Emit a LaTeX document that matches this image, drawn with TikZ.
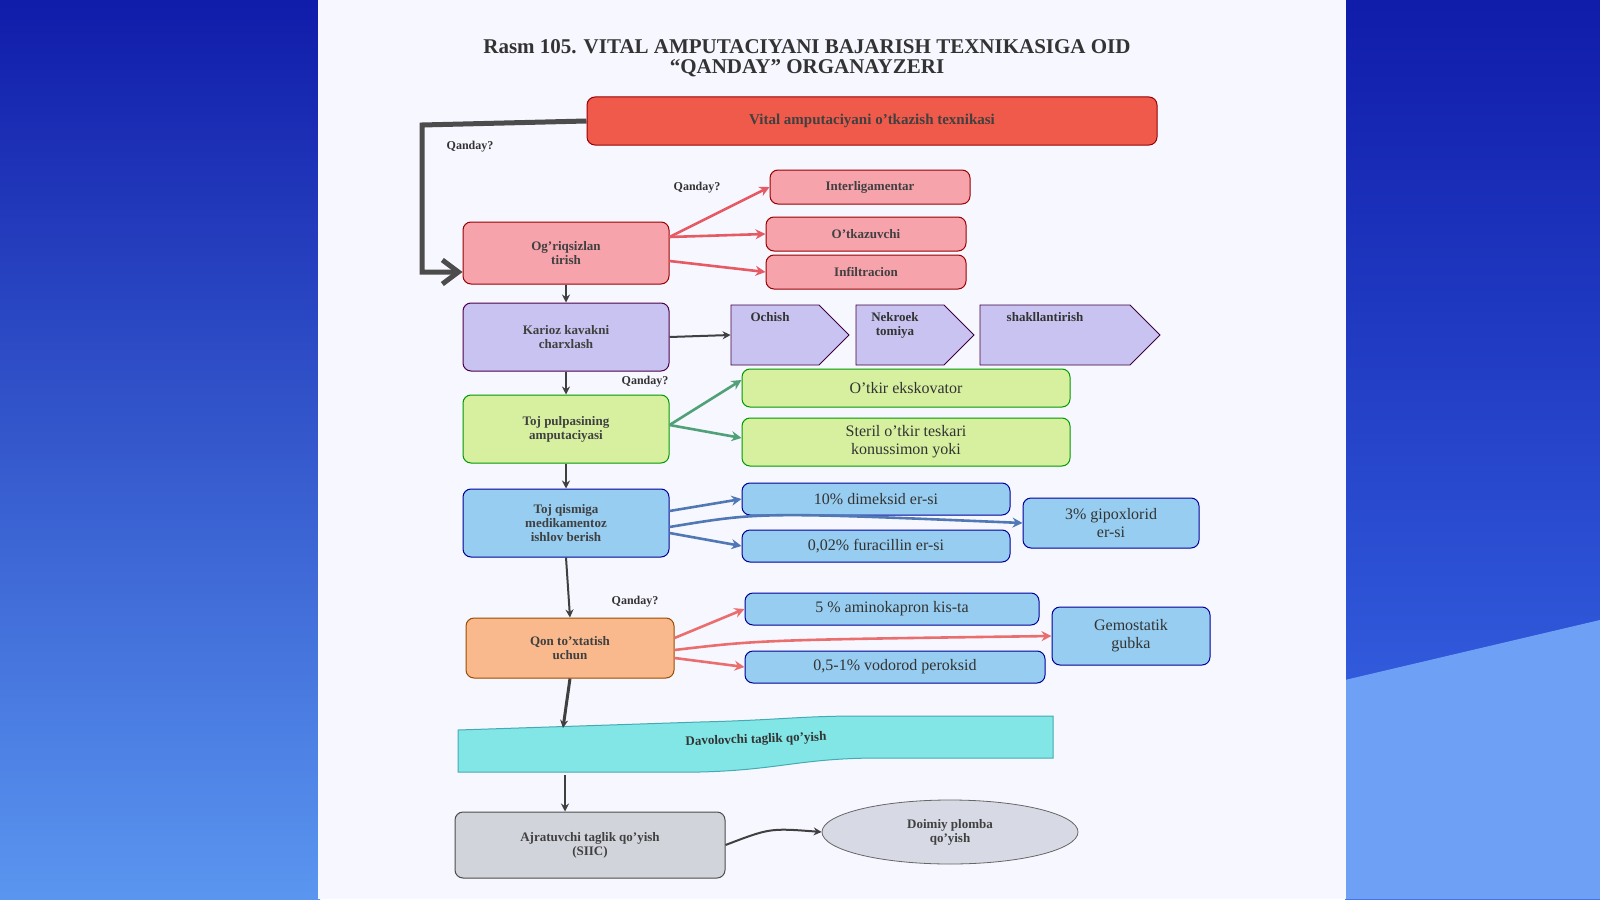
\documentclass[tikz,border=0pt]{standalone}
\usepackage{fontspec}
\setmainfont{Liberation Serif}
\usetikzlibrary{shapes.geometric,shapes.symbols,arrows.meta}
\definecolor{bgdark}{RGB}{16,28,170}
\definecolor{bglight}{RGB}{90,150,240}
\definecolor{bgmid}{RGB}{60,110,235}
\definecolor{bgtri}{RGB}{110,160,245}
\definecolor{topred}{RGB}{240,90,75}
\definecolor{pinkf}{RGB}{246,163,172}
\definecolor{pinka}{RGB}{230,90,100}
\definecolor{lavf}{RGB}{200,195,240}
\definecolor{greenf}{RGB}{215,240,160}
\definecolor{greena}{RGB}{80,160,120}
\definecolor{bluef}{RGB}{150,205,240}
\definecolor{bluea}{RGB}{80,120,180}
\definecolor{orangef}{RGB}{250,185,140}
\definecolor{reda}{RGB}{235,110,110}
\definecolor{cyand}{RGB}{70,170,180}
\definecolor{cyanf}{RGB}{130,230,230}
\definecolor{grayf}{RGB}{210,212,220}
\definecolor{ellf}{RGB}{215,218,228}
\begin{document}
\begin{tikzpicture}[x=0.5pt,y=-0.5pt,
  bx/.style={draw=#1!60!black,rounded corners=4pt,line width=0.5pt,inner sep=0pt,align=center,font=\fontsize{6.5}{7}\selectfont\bfseries,text=black!75},
  lb/.style={font=\fontsize{6}{7}\selectfont\bfseries,text=black!80},
  ar/.style={-{Stealth[length=4pt,width=4pt]},line width=1pt,draw=black!75},
  ca/.style={-{Stealth[length=5pt,width=5pt]},line width=1.3pt,draw=#1},
  pent/.style={draw=violet!50!black,line width=0.4pt,fill=lavf}]
\useasboundingbox (0,0) rectangle (1600,899);
% background
\shade[top color=bgdark,bottom color=bglight] (0,0) rectangle (320,899);
\shade[top color=bgdark,bottom color=bgmid] (1345,0) rectangle (1600,899);
\fill[bgtri] (1345,680) -- (1600,620) -- (1600,899) -- (1345,899) -- cycle;
\fill[white!97!blue] (318,0) rectangle (1346,899);
% title
\node[font=\fontsize{10.5}{10}\selectfont\bfseries,text=black!80,align=center] (title) at (807,58) {Rasm 105. VITAL AMPUTACIYANI BAJARISH TEXNIKASIGA OID\\ “QANDAY” ORGANAYZERI};
% top
\node[bx=red,fill=topred,minimum width=285pt,minimum height=24pt,font=\fontsize{7.5}{8}\selectfont\bfseries] (top) at (872,121) {Vital amputaciyani o’tkazish texnikasi};
\node[lb] (q1) at (470,147) {Qanday?};
% pink
\node[bx=red,fill=pinkf,minimum width=103pt,minimum height=31pt] (og) at (566,253) {Og’riqsizlan\\tirish};
\coordinate (c1) at (422,125); \coordinate (c2) at (422,272);
\draw[line width=2.5pt,draw=black!70,-{Straight Barb[length=8pt,width=12pt]}] (top.west) -- (c1) -- (c2) -- (og.west|-c2);
\node[bx=red,fill=pinkf,minimum width=100pt,minimum height=17pt] (il) at (870,187) {Interligamentar};
\node[bx=red,fill=pinkf,minimum width=100pt,minimum height=17pt] (ot) at (866,234) {O’tkazuvchi};
\node[bx=red,fill=pinkf,minimum width=100pt,minimum height=17pt] (inf) at (866,272) {Infiltracion};
\node[lb] (q2) at (697,188) {Qanday?};
\draw[ca=pinka] ([yshift=8pt]og.east) -- (il.west);
\draw[ca=pinka] ([yshift=8pt]og.east) -- (ot.west);
\draw[ca=pinka] ([yshift=-4pt]og.east) -- (inf.west);
% lavender
\node[bx=violet,fill=lavf,minimum width=103pt,minimum height=34pt] (kar) at (566,337) {Karioz kavakni\\charxlash};
\draw[ar] (og.south) -- (kar.north);
\node[pent,signal,signal to=east,signal pointer angle=90,minimum width=59pt,minimum height=30pt,inner sep=0pt] (och) at (775,335) {};
\node[lb,font=\fontsize{6.5}{7}\selectfont\bfseries] at (770,317) {Ochish};
\node[pent,signal,signal to=east,signal pointer angle=90,minimum width=59pt,minimum height=30pt,inner sep=0pt] (nek) at (900,335) {};
\node[lb,align=center,font=\fontsize{6.5}{7}\selectfont\bfseries] at (895,325) {Nekroek\\tomiya};
\node[pent,signal,signal to=east,signal pointer angle=90,minimum width=90pt,minimum height=30pt,inner sep=0pt] (sha) at (1055,335) {};
\node[lb,font=\fontsize{6.5}{7}\selectfont\bfseries] at (1045,317) {shakllantirish};
\draw[ar] (kar.east) -- (och.west);
% green
\node[bx=green,fill=greenf,minimum width=103pt,minimum height=34pt] (toj) at (566,429) {Toj pulpasining\\amputaciyasi};
\draw[ar] (kar.south) -- (toj.north);
\node[lb] (q3) at (645,382) {Qanday?};
\node[bx=green,fill=greenf,minimum width=164pt,minimum height=19pt,font=\fontsize{8}{9}\selectfont,text=black!80] (ek) at (906,388) {O’tkir ekskovator};
\node[bx=green,fill=greenf,minimum width=164pt,minimum height=24pt,font=\fontsize{8}{9}\selectfont,text=black!80] (st) at (906,442) {Steril o’tkir teskari\\konussimon yoki};
\draw[ca=greena] ([yshift=2pt]toj.east) -- ([yshift=4pt]ek.west);
\draw[ca=greena] ([yshift=2pt]toj.east) -- ([yshift=2pt]st.west);
% blue
\node[bx=blue,fill=bluef,minimum width=103pt,minimum height=34pt] (med) at (566,523) {Toj qismiga\\medikamentoz\\ishlov berish};
\draw[ar] (toj.south) -- (med.north);
\node[bx=blue,fill=bluef,minimum width=134pt,minimum height=16pt,font=\fontsize{8}{9}\selectfont,text=black!80] (dim) at (876,499) {10\% dimeksid er-si};
\node[bx=blue,fill=bluef,minimum width=134pt,minimum height=16pt,font=\fontsize{8}{9}\selectfont,text=black!80] (fur) at (876,546) {0,02\% furacillin  er-si};
\node[bx=blue,fill=bluef,minimum width=88pt,minimum height=25pt,font=\fontsize{8}{9}\selectfont,text=black!80] (gip) at (1111,523) {3\% gipoxlorid\\er-si};
\draw[ca=bluea] ([yshift=6pt]med.east) -- (dim.west);
\draw[ca=bluea] ([yshift=-2pt]med.east) .. controls (760,512) .. (gip.west);
\draw[ca=bluea] ([yshift=-5pt]med.east) -- (fur.west);
% orange
\node[bx=orange,fill=orangef,minimum width=104pt,minimum height=30pt] (qon) at (570,648) {Qon to’xtatish\\uchun};
\draw[ar] (med.south) -- (qon.north);
\node[lb] (q4) at (635,602) {Qanday?};
\node[bx=blue,fill=bluef,minimum width=147pt,minimum height=16pt,font=\fontsize{8}{9}\selectfont,text=black!80] (ami) at (892,609) {5 \% aminokapron kis-ta};
\node[bx=blue,fill=bluef,minimum width=150pt,minimum height=16pt,font=\fontsize{8}{9}\selectfont,text=black!80] (vod) at (895,667) {0,5-1\% vodorod peroksid};
\node[bx=blue,fill=bluef,minimum width=79pt,minimum height=29pt,font=\fontsize{8}{9}\selectfont,text=black!80] (gem) at (1131,636) {Gemostatik\\gubka};
\draw[ca=reda] ([yshift=5pt]qon.east) -- (ami.west);
\draw[ca=reda] ([yshift=-1pt]qon.east) .. controls (760,640) .. (gem.west);
\draw[ca=reda] ([yshift=-5pt]qon.east) -- (vod.west);
% banner
\path[draw=cyand,fill=cyanf,line width=0.5pt] (458,730) -- (700,722) .. controls (780,720) and (800,716) .. (860,716) -- (1053,716) -- (1053,758) -- (880,758) .. controls (800,758) and (780,770) .. (700,772) -- (458,772) -- cycle;
\node[lb,rotate=2,font=\fontsize{6.5}{7}\selectfont\bfseries] (dav) at (756,740) {Davolovchi taglik qo’yish};
\coordinate (datop) at (563,728); \coordinate (dabot) at (565,775);
\draw[ar,line width=1.5pt] (qon.south) -- (datop);
% gray
\node[bx=gray,fill=grayf,minimum width=135pt,minimum height=33pt] (ajr) at (590,845) {Ajratuvchi taglik qo’yish\\(SIIC)};
\draw[ar] (dabot) -- (ajr.north-|dabot);
\node[ellipse,draw=black!60,fill=ellf,minimum width=128pt,minimum height=32pt,align=center,font=\fontsize{6.5}{7}\selectfont\bfseries,text=black!75,inner sep=0pt] (doi) at (950,832) {Doimiy plomba\\qo’yish};
\draw[ar] (ajr.east) .. controls (770,828) .. (doi.west);
\end{tikzpicture}
\end{document}
